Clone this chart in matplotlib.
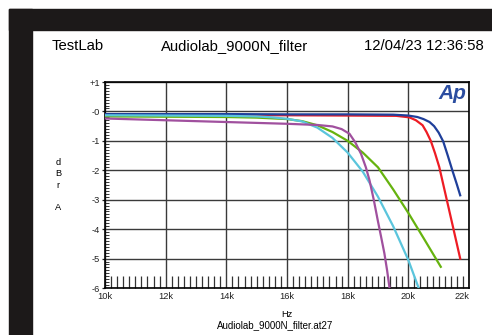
import matplotlib
matplotlib.use('Agg')
import matplotlib.pyplot as plt
from matplotlib.patches import Rectangle
from matplotlib.ticker import MultipleLocator

plt.rcParams['font.family'] = ['Liberation Sans', 'DejaVu Sans']

# frequency in kHz, level in dBr A
blue_f = [10, 12, 14, 16, 18, 19.5, 20.0, 20.3, 20.5, 20.7, 20.85, 21.0, 21.15, 21.3, 21.45, 21.6, 21.71]
blue_db = [-0.09, -0.09, -0.09, -0.1, -0.1, -0.11, -0.14, -0.19, -0.26, -0.36, -0.5, -0.72, -1.02, -1.5, -2.0, -2.48, -2.85]

red_f = [10, 12, 14, 16, 18, 19.6, 20.03, 20.25, 20.47, 20.6, 20.74, 20.88, 21.02, 21.24, 21.46, 21.71]
red_db = [-0.13, -0.13, -0.13, -0.13, -0.14, -0.15, -0.2, -0.3, -0.47, -0.7, -1.0, -1.42, -1.89, -2.88, -3.87, -5.0]

green_f = [10, 12, 14, 15, 16, 16.5, 17.0, 17.5, 18.0, 18.5, 19.0, 19.5, 20.0, 20.5, 21.07]
green_db = [-0.17, -0.18, -0.19, -0.21, -0.26, -0.33, -0.47, -0.7, -1.0, -1.4, -1.9, -2.65, -3.45, -4.3, -5.28]

cyan_f = [10, 12, 14, 15, 15.5, 16.0, 16.5, 17.0, 17.5, 18.0, 18.5, 19.0, 19.5, 20.0, 20.34]
cyan_db = [-0.13, -0.14, -0.15, -0.17, -0.2, -0.25, -0.34, -0.55, -0.9, -1.4, -2.05, -2.9, -3.9, -5.05, -6.0]

purple_f = [10, 12, 14, 16, 17.0, 17.5, 17.8, 18.06, 18.25, 18.44, 18.6, 18.72, 18.86, 18.99, 19.1, 19.21, 19.3, 19.38]
purple_db = [-0.24, -0.3, -0.36, -0.42, -0.46, -0.51, -0.6, -0.76, -1.05, -1.44, -1.9, -2.34, -3.0, -3.69, -4.25, -4.82, -5.4, -6.0]

xticks = [10, 12, 14, 16, 18, 20, 22]
xlabels = ['10k', '12k', '14k', '16k', '18k', '20k', '22k']
yticks = [1, 0, -1, -2, -3, -4, -5, -6]
ylabels = ['+1', '-0', '-1', '-2', '-3', '-4', '-5', '-6']

W, H = 492, 335
fig = plt.figure(figsize=(W / 100, H / 100), dpi=100)

# black frame on top and left
dark = '#1c1919'
fig.patches.append(Rectangle((9 / W, 1 - 30 / H), 1, 21 / H, transform=fig.transFigure,
                             color=dark, zorder=0))
fig.patches.append(Rectangle((9 / W, 0), 23 / W, 1 - 9 / H, transform=fig.transFigure,
                             color=dark, zorder=0))

# header
fig.text(52 / W, 1 - 50.5 / H, 'TestLab', fontsize=10.7, va='baseline', ha='left')
fig.text(235 / W, 1 - 50.5 / H, 'Audiolab_9000N_filter', fontsize=10.7, va='baseline', ha='center')
fig.text(484 / W, 1 - 50.5 / H, '12/04/23 12:36:58', fontsize=10.7, va='baseline', ha='right')

ax = fig.add_axes([105 / W, 1 - 288 / H, 364 / W, 206 / H])

ax.plot(red_f, red_db, color='#ee1c24', lw=1.6, zorder=3)
ax.plot(blue_f, blue_db, color='#1f3f9a', lw=1.6, zorder=3)
ax.plot(green_f, green_db, color='#66b30f', lw=1.6, zorder=3)
ax.plot(cyan_f, cyan_db, color='#5bc5dc', lw=1.6, zorder=3)
ax.plot(purple_f, purple_db, color='#a0509e', lw=1.6, zorder=3)

ax.set_xlim(10, 22)
ax.set_ylim(-6, 1)
ax.set_xticks(xticks)
ax.set_xticklabels(xlabels)
ax.set_yticks(yticks)
ax.set_yticklabels(ylabels)
ax.xaxis.set_minor_locator(MultipleLocator(0.2))
ax.yaxis.set_minor_locator(MultipleLocator(0.1))

ax.grid(True, which='major', color='#3a3a3a', lw=1.0)
ax.tick_params(axis='x', which='major', length=0, pad=3, labelsize=6.7, colors='#222222')
ax.tick_params(axis='x', which='minor', direction='in', length=8.3, width=0.9, color='#333333')
ax.tick_params(axis='y', which='major', direction='out', length=2, width=0.9, pad=1.5,
               labelsize=6.7, colors='#222222')
ax.tick_params(axis='y', which='minor', direction='in', length=3, width=0.7, color='#333333')
for s in ax.spines.values():
    s.set_color('black')
    s.set_linewidth(1.2)

# last x label sits inside the frame
ax.get_xticklabels()[-1].set_horizontalalignment('right')
ax.get_xticklabels()[-1].set_x(22.1)

# Ap logo
fig.text(466 / W, 1 - 99 / H, 'Ap', fontsize=15, fontweight='bold', fontstyle='italic',
         color='#2b4da0', ha='right', va='baseline')

# y label, letters stacked
fig.text(58 / W, 1 - 185 / H, 'd\nB\nr\n\nA', fontsize=6.7, ha='center', va='center',
         linespacing=1.3)

fig.text(287 / W, 1 - 314.7 / H, 'Hz', fontsize=6.7, ha='center', va='center')
fig.text(275 / W, 1 - 325 / H, 'Audiolab_9000N_filter.at27', fontsize=7.0, ha='center', va='center')

fig.savefig('out.png', dpi=100)
